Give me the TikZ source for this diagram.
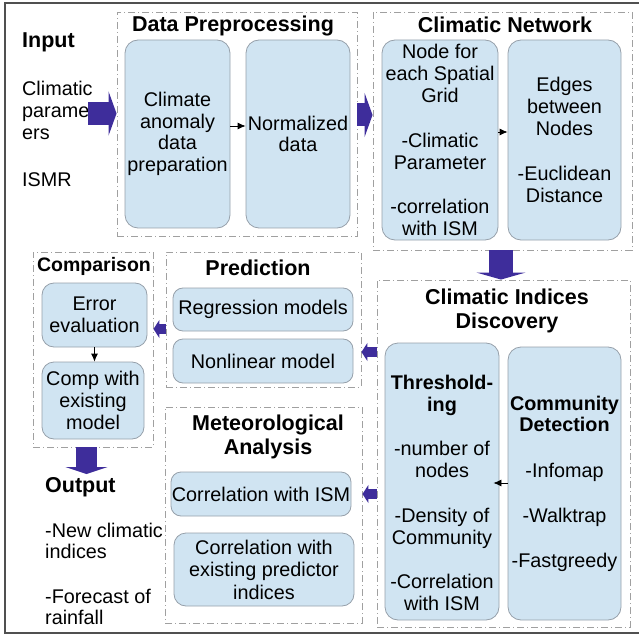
\documentclass[tikz,border=0pt]{standalone}
\usepackage{fontspec}
\setmainfont{Liberation Sans}
\usetikzlibrary{arrows.meta}
\definecolor{boxfill}{RGB}{208,228,242}
\definecolor{boxline}{RGB}{150,160,170}
\definecolor{grpline}{RGB}{160,160,160}
\definecolor{purp}{RGB}{62,45,155}
\definecolor{framecol}{RGB}{80,80,80}
\tikzset{
 grp/.style={draw=grpline, line width=0.9pt, dash pattern=on 7pt off 3pt on 1pt off 3pt, inner sep=0pt},
 bbox/.style={draw=boxline, fill=boxfill, rounded corners=13pt, line width=0.8pt, inner sep=0pt, align=center, font=\fontsize{19.8}{21.5}\selectfont},
 ttl/.style={font=\fontsize{21.5}{24}\selectfont\bfseries, inner sep=0pt, align=center},
 ttls/.style={font=\fontsize{19.5}{22}\selectfont\bfseries, inner sep=0pt, align=center},
 txt/.style={font=\fontsize{19.8}{22}\selectfont, inner sep=0pt, align=left},
 bigarrow/.style={draw=purp, line width=23pt, -{Triangle[length=8pt,width=44pt]}},
 bigarrowv/.style={draw=purp, line width=24pt, -{Triangle[length=7pt,width=49pt]}},
 outarrow/.style={draw=purp, line width=21pt, -{Triangle[length=7pt,width=42pt]}},
 smallarrow/.style={draw=purp, line width=10pt, -{Triangle[length=6pt,width=18pt]}},
 blk/.style={draw=black, line width=0.8pt, -{Latex[length=8pt,width=7pt]}},
}
\begin{document}
\begin{tikzpicture}[x=1pt,y=-1pt]
\useasboundingbox (0,0) rectangle (639,636);
\draw[framecol, line width=2pt] (639,3) -- (5,3) -- (5,633) -- (639,633);

% group boxes
\node[grp, minimum width=240pt, minimum height=224pt] (dpg) at (237,124) {};
\node[grp, minimum width=259pt, minimum height=238pt] (cng) at (502.5,131) {};
\node[grp, minimum width=253pt, minimum height=347pt] (cidg) at (503.5,453.5) {};
\node[grp, minimum width=195pt, minimum height=135pt] (predg) at (263.5,319.5) {};
\node[grp, minimum width=120pt, minimum height=195pt] (compg) at (93,349.5) {};
\node[grp, minimum width=197pt, minimum height=216pt] (metg) at (263.5,515) {};

% titles
\node[ttl, anchor=base west] (tin) at (22,48) {Input};
\node[ttl, anchor=base] (tdp) at (233,32) {Data Preprocessing};
\node[ttl, anchor=base] (tcn) at (505,33) {Climatic Network};
\node[ttl] (tcid) at (507,311) {Climatic Indices\\Discovery};
\node[ttl, anchor=base] (tpr) at (258,275) {Prediction};
\node[ttls, anchor=base] (tcmp) at (94,271) {Comparison};
\node[ttl] (tmet) at (268,437) {Meteorological\\Analysis};
\node[ttl, anchor=base west] (tout) at (45,492) {Output};

% plain texts
\node[txt, anchor=north west] (intxt) at (22,81) {Climatic\\parame\\ers};
\node[txt, anchor=base west] (ismr) at (22,187) {ISMR};
\node[txt, anchor=north west, font=\fontsize{19.8}{21}\selectfont] (outtxt) at (45,523) {-New climatic\\indices\\[24pt]-Forecast of\\rainfall};

% blue boxes
\node[bbox, minimum width=105pt, minimum height=188pt] (b1) at (177.5,134) {Climate\\anomaly\\data\\preparation};
\node[bbox, minimum width=104pt, minimum height=188pt] (b2) at (298,134) {Normalized\\data};
\node[bbox, minimum width=116pt, minimum height=200pt, font=\fontsize{19.8}{22}\selectfont] (b3) at (440,140) {Node for\\each Spatial\\Grid\\[22.5pt]-Climatic\\Parameter\\[22.5pt]-correlation\\with ISM};
\node[bbox, minimum width=113pt, minimum height=200pt, font=\fontsize{19.8}{22}\selectfont] (b4) at (564.5,140) {Edges\\between\\Nodes\\[22.5pt]-Euclidean\\Distance};
\node[bbox, minimum width=114pt, minimum height=277pt] (thr) at (442,481.5) {};
\node[bbox, draw=none, fill=none, font=\fontsize{19.8}{22}\selectfont] (thrtxt) at (442,493) {\textbf{Threshold-}\\\textbf{ing}\\[22.5pt]-number of\\nodes\\[22.5pt]-Density of\\Community\\[22.5pt]-Correlation\\with ISM};
\node[bbox, minimum width=113pt, minimum height=273pt, font=\fontsize{19.8}{21.5}\selectfont] (cd) at (564.5,483.5) {\textbf{Community}\\\textbf{Detection}\\[24pt]-Infomap\\[23.5pt]-Walktrap\\[23.5pt]-Fastgreedy};
\node[bbox, minimum width=180pt, minimum height=43pt, rounded corners=10pt] (reg) at (263,309.5) {Regression models};
\node[bbox, minimum width=180pt, minimum height=44pt, rounded corners=10pt] (nl) at (263,361) {Nonlinear model};
\node[bbox, minimum width=105pt, minimum height=64pt, rounded corners=12pt] (err) at (94.5,315) {Error\\evaluation};
\node[bbox, minimum width=102pt, minimum height=77pt, rounded corners=12pt, font=\fontsize{19.8}{22}\selectfont] (cmp) at (93,400.5) {Comp with\\existing\\model};
\node[bbox, minimum width=180pt, minimum height=44pt, rounded corners=10pt] (cism) at (261,494) {Correlation with ISM};
\node[bbox, minimum width=180pt, minimum height=73pt, rounded corners=12pt, font=\fontsize{19.8}{22.5}\selectfont] (cep) at (264,569.5) {Correlation with\\existing predictor\\indices};

% purple arrows
\coordinate (inA) at (88,113.5);
\draw[bigarrow] (inA) -- (inA -| dpg.west);
\draw[bigarrow] (dpg.east |- 0,115) -- (cng.west |- 0,115);
\draw[bigarrowv] (cng.south -| 501,0) -- (cidg.north -| 501,0);
\draw[smallarrow] (cidg.west |- 0,352) -- (predg.east |- 0,352);
\draw[smallarrow] (cidg.west |- 0,494) -- (metg.east |- 0,494);
\draw[smallarrow] (predg.west |- 0,329) -- (compg.east |- 0,329);
\coordinate (outA) at (86.5,474);
\draw[outarrow] (compg.south -| outA) -- (outA);

% black arrows
\draw[blk] (b1.east |- 0,126) -- (b2.west |- 0,126);
\draw[blk] (b3.east |- 0,132) -- (b4.west |- 0,132);
\draw[blk] (cd.west |- 0,483) -- ([xshift=-6pt]thr.east |- 0,483);
\draw[blk] (err.south) -- (err.south |- cmp.north);
\end{tikzpicture}
\end{document}
